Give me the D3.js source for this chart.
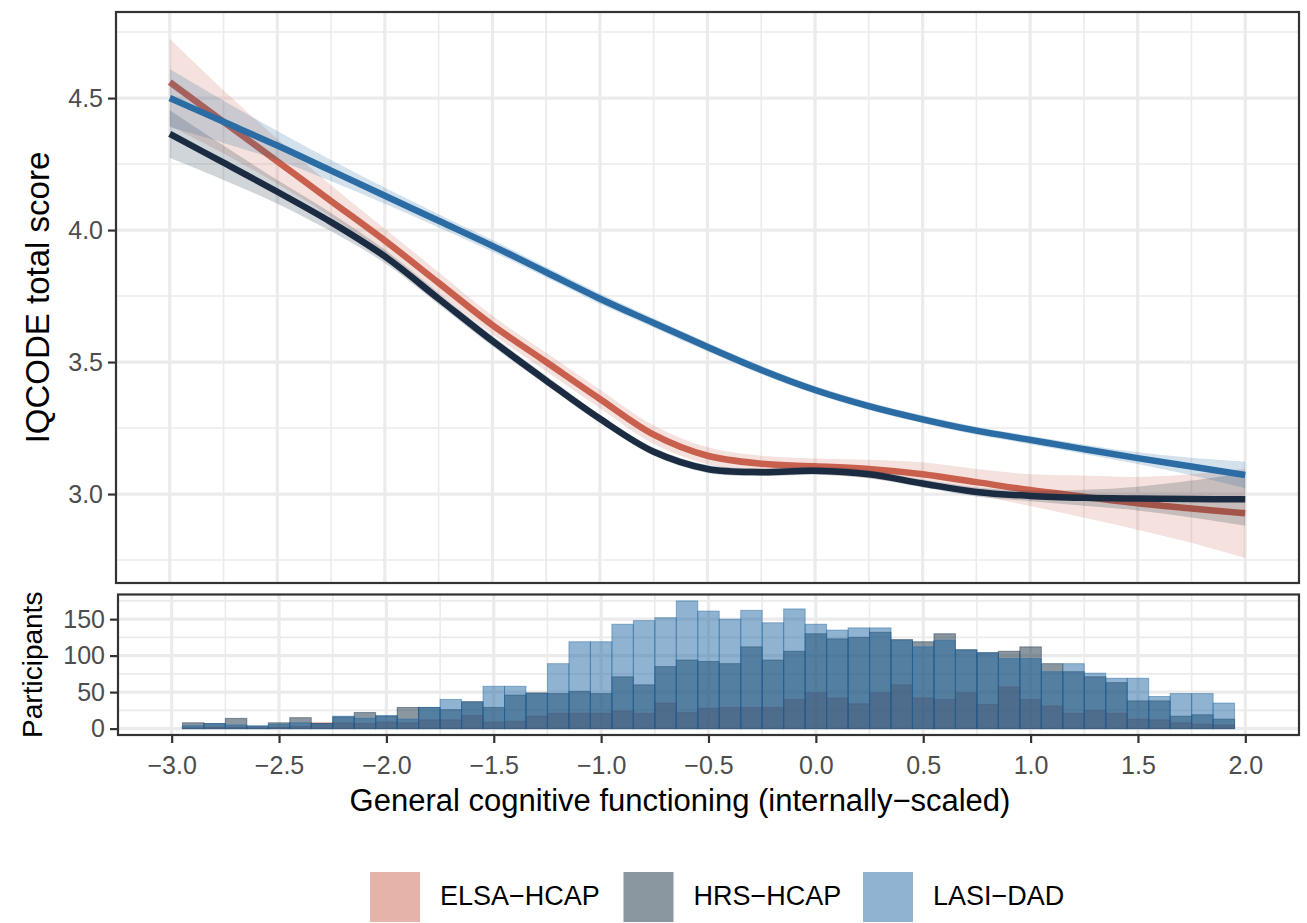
<!DOCTYPE html>
<html>
<head>
<meta charset="utf-8">
<script src="https://cdn.jsdelivr.net/npm/d3@7"></script>
<style>
  body { margin: 0; background: #fff; }
  svg { font-family: "Liberation Sans", Arial, sans-serif; }
</style>
</head>
<body>
<script>
// ---- data ----
var groups = ["ELSA−HCAP", "HRS−HCAP", "LASI−DAD"];
var baseColors = ["#cb6755", "#152d41", "#1f67a1"];
var lineColors = ["#c8604d", "#1a2b42", "#2b6ca5"];
var legendColors = ["#e5b3aa", "#8a96a0", "#8fb3d0"];

var fitX = [-3, -2.75, -2.5, -2.25, -2, -1.75, -1.5, -1.25, -1, -0.75, -0.5, -0.25, 0, 0.25, 0.5, 0.75, 1, 1.25, 1.5, 1.75, 2];
var elsaFit = [4.56, 4.41, 4.26, 4.11, 3.96, 3.80, 3.64, 3.50, 3.36, 3.225, 3.145, 3.115, 3.105, 3.095, 3.075, 3.045, 3.015, 2.99, 2.965, 2.945, 2.927];
var hrsFit  = [4.364, 4.255, 4.145, 4.03, 3.90, 3.74, 3.58, 3.43, 3.285, 3.16, 3.095, 3.083, 3.088, 3.075, 3.04, 3.008, 2.993, 2.986, 2.983, 2.981, 2.98];
var lasiFit = [4.50, 4.41, 4.32, 4.225, 4.13, 4.035, 3.94, 3.84, 3.74, 3.648, 3.557, 3.47, 3.394, 3.333, 3.283, 3.24, 3.205, 3.17, 3.136, 3.104, 3.072];
var elsaSe = [0.165, 0.12, 0.085, 0.06, 0.045, 0.04, 0.035, 0.035, 0.035, 0.035, 0.032, 0.03, 0.03, 0.035, 0.045, 0.05, 0.06, 0.08, 0.1, 0.13, 0.17];
var hrsSe  = [0.09, 0.065, 0.045, 0.035, 0.025, 0.022, 0.02, 0.018, 0.016, 0.015, 0.015, 0.015, 0.015, 0.015, 0.015, 0.017, 0.02, 0.03, 0.045, 0.07, 0.1];
var lasiSe = [0.11, 0.08, 0.055, 0.04, 0.03, 0.025, 0.022, 0.02, 0.02, 0.018, 0.017, 0.016, 0.015, 0.015, 0.015, 0.015, 0.016, 0.018, 0.022, 0.033, 0.05];

var binCenters = [-2.9, -2.8, -2.7, -2.6, -2.5, -2.4, -2.3, -2.2, -2.1, -2.0,
                  -1.9, -1.8, -1.7, -1.6, -1.5, -1.4, -1.3, -1.2, -1.1, -1.0,
                  -0.9, -0.8, -0.7, -0.6, -0.5, -0.4, -0.3, -0.2, -0.1, 0.0,
                  0.1, 0.2, 0.3, 0.4, 0.5, 0.6, 0.7, 0.8, 0.9, 1.0,
                  1.1, 1.2, 1.3, 1.4, 1.5, 1.6, 1.7, 1.8, 1.9];
var binWidth = 0.1;
var elsaCounts = [1,2,2,1,2,3,8,8,7,9, 8,12,12,18,9,10,17,21,21,21, 24,21,35,22,28,29,29,29,40,49, 42,34,49,60,42,40,49,33,57,40, 31,21,25,21,13,12,8,6,5];
var hrsCounts  = [8,7,14,3,8,15,7,16,22,17, 29,29,26,37,29,46,49,48,51,48, 71,60,85,94,92,89,112,94,106,130, 123,125,132,122,119,130,108,104,106,112, 89,78,71,63,38,38,17,19,13];
var lasiCounts = [4,7,5,4,6,8,7,17,14,18, 13,29,40,36,58,58,48,89,119,119, 143,148,152,175,161,150,162,145,164,143, 135,138,138,121,112,121,108,104,96,96, 78,89,76,69,69,44,48,48,35];

var xTicks = [-3, -2.5, -2, -1.5, -1, -0.5, 0, 0.5, 1, 1.5, 2];
var xMinor = [-2.75, -2.25, -1.75, -1.25, -0.75, -0.25, 0.25, 0.75, 1.25, 1.75];
var yTicksTop = [3.0, 3.5, 4.0, 4.5];
var yMinorTop = [2.75, 3.25, 3.75, 4.25, 4.75];
var yTicksBot = [0, 50, 100, 150];
var yMinorBot = [25, 75, 125, 175];

// ---- layout ----
var W = 1307, H = 923;
var pTop = {left: 116, right: 1299, top: 12, bottom: 583};
var pBot = {left: 118, right: 1299, top: 594.5, bottom: 735};
var ink = "#333333", grid = "#ebebeb", tickText = "#4d4d4d";

var svg = d3.select("body").append("svg").attr("width", W).attr("height", H);

var xTop = d3.scaleLinear().domain([-3.25, 2.25]).range([pTop.left, pTop.right]);
var yTop = d3.scaleLinear().domain([2.663, 4.826]).range([pTop.bottom, pTop.top]);
var xBot = d3.scaleLinear().domain([-3.25, 2.25]).range([pBot.left, pBot.right]);
var yBot = d3.scaleLinear().domain([-8.75, 183.75]).range([pBot.bottom, pBot.top]);

function drawGrid(p, x, y, xs, xm, ys, ym) {
  var g = svg.append("g");
  g.selectAll(".hm").data(ym).enter().append("line")
    .attr("x1", p.left).attr("x2", p.right).attr("y1", d => y(d)).attr("y2", d => y(d))
    .attr("stroke", grid).attr("stroke-width", 1.6);
  g.selectAll(".vm").data(xm).enter().append("line")
    .attr("y1", p.top).attr("y2", p.bottom).attr("x1", d => x(d)).attr("x2", d => x(d))
    .attr("stroke", grid).attr("stroke-width", 1.6);
  g.selectAll(".hM").data(ys).enter().append("line")
    .attr("x1", p.left).attr("x2", p.right).attr("y1", d => y(d)).attr("y2", d => y(d))
    .attr("stroke", grid).attr("stroke-width", 3.2);
  g.selectAll(".vM").data(xs).enter().append("line")
    .attr("y1", p.top).attr("y2", p.bottom).attr("x1", d => x(d)).attr("x2", d => x(d))
    .attr("stroke", grid).attr("stroke-width", 3.2);
}

drawGrid(pTop, xTop, yTop, xTicks, xMinor, yTicksTop, yMinorTop);
drawGrid(pBot, xBot, yBot, xTicks, xMinor, yTicksBot, yMinorBot);

// ---- smooth fits with ribbons ----
var fits = [elsaFit, hrsFit, lasiFit];
var ses = [elsaSe, hrsSe, lasiSe];

fits.forEach(function(fit, gi) {
  var rows = fitX.map(function(xv, i) { return {x: xv, y: fit[i], lo: fit[i] - ses[gi][i], hi: fit[i] + ses[gi][i]}; });
  var area = d3.area().curve(d3.curveCatmullRom)
    .x(d => xTop(d.x)).y0(d => yTop(d.lo)).y1(d => yTop(d.hi));
  var line = d3.line().curve(d3.curveCatmullRom)
    .x(d => xTop(d.x)).y(d => yTop(d.y));
  svg.append("path").datum(rows).attr("d", area)
    .attr("fill", baseColors[gi]).attr("fill-opacity", 0.2);
  svg.append("path").datum(rows).attr("d", line)
    .attr("fill", "none").attr("stroke", lineColors[gi]).attr("stroke-width", 6.5);
});

// ---- histograms ----
var counts = [elsaCounts, hrsCounts, lasiCounts];
counts.forEach(function(cs, gi) {
  var rows = binCenters.map(function(c, i) { return {x: c, n: cs[i]}; });
  svg.append("g").selectAll("rect").data(rows).enter().append("rect")
    .attr("x", d => xBot(d.x - binWidth / 2))
    .attr("width", d => xBot(d.x + binWidth / 2) - xBot(d.x - binWidth / 2))
    .attr("y", d => yBot(d.n))
    .attr("height", d => yBot(0) - yBot(d.n))
    .attr("fill", baseColors[gi]).attr("fill-opacity", 0.5)
    .attr("stroke", baseColors[gi]).attr("stroke-opacity", 0.45).attr("stroke-width", 1);
});

// ---- borders ----
[pTop, pBot].forEach(function(p) {
  svg.append("rect").attr("x", p.left).attr("y", p.top)
    .attr("width", p.right - p.left).attr("height", p.bottom - p.top)
    .attr("fill", "none").attr("stroke", ink).attr("stroke-width", 2.2);
});

// ---- axes ----
function styleAxis(g) {
  g.select(".domain").remove();
  g.selectAll(".tick line").attr("stroke", ink).attr("stroke-width", 2.2);
  g.selectAll(".tick text").attr("fill", tickText).style("font-size", "25px");
}

var yAxisTop = d3.axisLeft(yTop).tickValues(yTicksTop).tickFormat(d3.format(".1f")).tickSize(8).tickPadding(5);
svg.append("g").attr("transform", "translate(" + pTop.left + ",0)").call(yAxisTop).call(styleAxis);

var yAxisBot = d3.axisLeft(yBot).tickValues(yTicksBot).tickFormat(d3.format("d")).tickSize(8).tickPadding(5);
svg.append("g").attr("transform", "translate(" + pBot.left + ",0)").call(yAxisBot).call(styleAxis);

var xAxisBot = d3.axisBottom(xBot).tickValues(xTicks).tickFormat(d3.format(".1f")).tickSize(8).tickPadding(13);
svg.append("g").attr("transform", "translate(0," + pBot.bottom + ")").call(xAxisBot).call(styleAxis);

// ---- axis titles ----
svg.append("text")
  .attr("transform", "translate(49," + ((pTop.top + pTop.bottom) / 2) + ") rotate(-90)")
  .attr("text-anchor", "middle").style("font-size", "33px").attr("fill", "#000")
  .text("IQCODE total score");

svg.append("text")
  .attr("transform", "translate(42," + ((pBot.top + pBot.bottom) / 2) + ") rotate(-90)")
  .attr("text-anchor", "middle").style("font-size", "28px").attr("fill", "#000")
  .text("Participants");

svg.append("text")
  .attr("x", 680).attr("y", 811)
  .attr("text-anchor", "middle").style("font-size", "31px").attr("fill", "#000")
  .text("General cognitive functioning (internally−scaled)");

// ---- legend ----
var legendX = [370, 623.5, 863];
var legend = svg.selectAll(".legend").data(groups).enter().append("g")
  .attr("transform", (d, i) => "translate(" + legendX[i] + ",872)");
legend.append("rect").attr("width", 50).attr("height", 50)
  .attr("fill", (d, i) => legendColors[i]);
legend.append("text").attr("x", 70).attr("y", 33)
  .style("font-size", "27px").attr("fill", "#000")
  .text(d => d);
</script>
</body>
</html>
